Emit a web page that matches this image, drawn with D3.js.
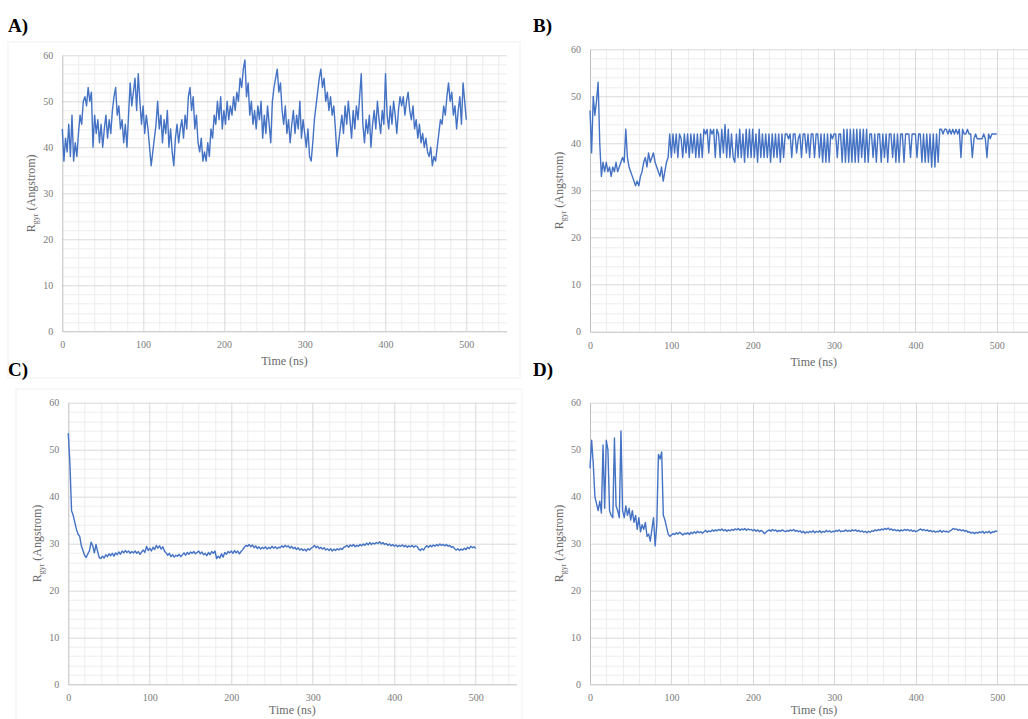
<!DOCTYPE html>
<meta charset="utf-8">
<style type="text/css">
  body{ margin:0; background:#fff; }
  svg{ display:block; }
  text{ font-family:"Liberation Serif","DejaVu Serif",serif; }
  .tick text{ fill:#7a7a7a; font-size:10px; }
  .axis-title{ fill:#6a6a6a; font-size:12px; }
  .tag{ fill:#000; font-size:19px; font-weight:bold; }
</style>
<body>
<script src="https://d3js.org/d3.v7.min.js"></script>
<script>

// sampling interval of the trajectories (ns)
var step = 2;

var timeTicks = [0, 100, 200, 300, 400, 500];
var rgyrTicks = [0, 10, 20, 30, 40, 50, 60];

// Rgyr (Angstrom), one value every 2 ns from 0 to 500 ns
var rgyrA = [
  44, 37, 42, 39, 45, 38, 47, 37, 41, 38,
  43, 47, 45, 50, 51, 49, 53, 50, 52, 40,
  47, 43, 46, 41, 45, 40, 44, 47, 42, 46,
  43, 48, 51, 53, 47, 49, 44, 46, 41, 45,
  40, 47, 54, 49, 52, 55, 48, 56, 50, 45,
  49, 43, 47, 44, 40, 36, 39, 42, 45, 50,
  44, 47, 41, 46, 43, 48, 40, 44, 39, 36,
  42, 45, 41, 44, 46, 42, 47, 44, 51, 53,
  48, 51, 44, 47, 41, 39, 42, 37, 39, 37,
  41, 38, 44, 42, 47, 45, 50, 46, 51, 44,
  48, 45, 50, 46, 49, 47, 51, 48, 52, 50,
  55, 53, 57, 59, 51, 54, 47, 50, 45, 48,
  44, 49, 46, 50, 42, 47, 43, 49, 45, 41,
  50, 53, 55, 57, 52, 54, 48, 45, 49, 43,
  46, 41, 45, 48, 43, 47, 44, 50, 42, 46,
  43, 40, 44, 38, 37, 41, 46, 49, 52, 55,
  57, 53, 55, 50, 52, 48, 51, 47, 49, 44,
  38, 41, 44, 47, 43, 49, 45, 50, 46, 42,
  48, 44, 49, 46, 51, 56, 45, 41, 46, 43,
  47, 40, 45, 48, 44, 50, 46, 43, 48, 45,
  56, 47, 44, 49, 45, 50, 47, 43, 48, 51,
  49, 51, 47, 50, 52, 48, 46, 49, 44, 46,
  42, 45, 41, 43, 40, 42, 39, 38, 40, 36,
  38, 37, 40, 43, 46, 45, 49, 47, 51, 54,
  50, 52, 47, 49, 44, 48, 51, 45, 54, 50,
  46
];

var rgyrB = [
  47, 38, 50, 46, 49, 53, 40, 33, 36, 34,
  36, 34, 35, 33, 35, 34, 36, 34, 35, 36,
  37, 36, 43, 37, 35, 34, 33, 32, 31, 32,
  31, 33, 34, 36, 37, 35, 38, 36, 37, 38,
  36, 35, 34, 33, 35, 32, 34, 36, 37, 42,
  37, 42, 38, 42, 37, 42, 41, 37, 42, 38,
  42, 37, 42, 38, 42, 37, 42, 37, 42, 37,
  43, 42, 43, 38, 43, 42, 43, 37, 43, 42,
  37, 43, 38, 44, 37, 43, 37, 42, 37, 36,
  42, 37, 43, 37, 42, 36, 43, 37, 43, 37,
  43, 37, 42, 36, 43, 37, 42, 37, 42, 37,
  42, 36, 42, 37, 42, 37, 42, 36, 42, 37,
  42, 42, 41, 42, 37, 42, 42, 38, 41, 42,
  37, 42, 42, 38, 42, 37, 42, 42, 37, 42,
  42, 37, 42, 36, 42, 36, 42, 36, 42, 41,
  42, 42, 37, 42, 42, 36, 43, 36, 43, 36,
  43, 36, 43, 36, 43, 36, 43, 37, 43, 36,
  43, 36, 42, 42, 37, 42, 36, 42, 42, 36,
  42, 37, 42, 36, 42, 42, 37, 42, 36, 42,
  36, 42, 42, 36, 42, 42, 42, 37, 42, 42,
  42, 37, 42, 42, 36, 42, 36, 42, 36, 42,
  35, 42, 35, 42, 36, 43, 43, 42, 43, 43,
  42, 43, 42, 43, 42, 43, 42, 43, 37, 43,
  42, 42, 43, 42, 42, 37, 41, 42, 41, 41,
  41, 41, 42, 41, 37, 42, 41, 42, 42, 42,
  42
];

var rgyrC = [
  53.5, 47, 37, 36, 34.5, 33, 32, 31.5, 29.5, 28.5,
  27.5, 27, 27.8, 28.5, 30.3, 29.5, 28, 29.8, 28.3, 27,
  26.8, 27.3, 26.9, 27.6, 27.2, 27.8, 27.4, 27.9, 27.3, 28,
  27.6, 28.2, 27.7, 28.4, 28, 28.5, 28.1, 28.4, 27.9, 28.3,
  28, 28.4, 27.9, 28.3, 27.7, 28.2, 28.6, 28.1, 29.4, 28.5,
  29, 28.4, 29.2, 28.7, 29.6, 29, 29.5, 28.8, 29.3, 28.4,
  28, 27.5, 27.9, 27.2, 27.6, 27.1, 27.5, 27.3, 27.7, 27.2,
  27.6, 28, 27.5, 28.1, 27.7, 28.2, 27.9, 28.3, 27.8, 28.1,
  28.4, 27.8, 28.2, 27.6, 27.9, 27.4, 28.1, 27.6, 28.3, 27.9,
  28.4, 26.8, 27.3, 26.9, 27.8, 27.1, 28.1, 27.7, 28.3, 28,
  28.4, 27.9, 28.5, 28, 28.4, 27.8, 28.3, 28.7, 29.2, 29.6,
  29.4, 29.8, 29.3, 29.7, 29.1, 29.5, 28.9, 29.3, 28.8, 29.2,
  28.9, 29.3, 28.8, 29.2, 28.9, 29.4, 29, 29.3, 28.9, 29.2,
  29.1, 29.5, 29.2, 29.6, 29.3, 29.5, 29, 29.4, 28.9, 29.2,
  28.7, 29.1, 28.6, 28.9, 28.5, 28.8, 28.4, 28.9, 28.6, 29,
  29.2, 29.6, 29.1, 29.4, 28.9, 29.2, 28.8, 29.1, 28.6, 28.9,
  28.5, 28.9, 28.4, 28.8, 28.5, 28.9, 28.6, 29, 28.7, 29.2,
  29.3, 29.6, 29.2, 29.7, 29.4, 29.8, 29.3, 29.6, 29.4, 29.8,
  29.5, 29.9, 29.6, 30.1, 29.7, 30.2, 29.8, 30.1, 29.9, 30.2,
  30, 30.4, 29.9, 30.2, 29.8, 30, 29.6, 29.9, 29.5, 29.8,
  29.4, 29.7, 29.3, 29.6, 29.4, 29.7, 29.3, 29.6, 29.2, 29.5,
  29.3, 29.6, 29.2, 29.5, 29.4, 28.8, 28.5, 28.9, 28.6, 29.2,
  29.5, 29.2, 29.6, 29.3, 29.7, 29.4, 29.8, 29.5, 29.9, 29.6,
  29.8, 29.5, 29.8, 29.4, 29.6, 29.2, 29.3, 28.9, 28.6, 28.9,
  28.5, 28.8, 28.6, 29, 28.7, 29.2, 28.9, 29.4, 29.1, 29.3,
  28.9
];

var rgyrD = [
  46, 52, 47, 40, 38.5, 37, 39, 36.5, 51, 37.5,
  52, 50, 37, 36, 35.5, 52.5, 38, 37, 35.5, 54,
  37, 35.5, 38, 36, 37.5, 35, 37, 34.5, 36, 33,
  35.5, 32.5, 34, 33, 34.5, 31.5, 32, 30.5, 33, 35.5,
  29.5, 34, 49, 48, 49.5, 36, 35, 33.5, 32, 31.5,
  31.8, 32.1, 31.9, 32.3, 32, 32.4, 32.1, 31.8, 32.2, 32,
  32.3, 31.9, 32.4, 32.1, 32.5, 32.2, 32.6, 32.3, 32.5, 32.2,
  32.5, 32.8, 32.4, 32.7, 32.5, 32.9, 32.6, 32.9, 32.7, 33,
  32.8, 33.1, 32.7, 33, 32.6, 32.9, 32.7, 33, 32.8, 33.1,
  32.9, 33.2, 32.8, 33.1, 32.9, 33.2, 32.8, 33.1, 32.9, 33,
  32.7, 33, 32.6, 32.9, 32.5, 32.8, 32.6, 32.1, 32.4, 32.7,
  32.9, 32.6, 33, 32.7, 32.9, 32.5, 32.8, 32.6, 32.9, 32.7,
  32.5, 32.8, 32.6, 32.9, 32.7, 33, 32.6, 32.8, 32.5, 32.7,
  32.3, 32.6, 32.2, 32.5, 32.3, 32.6, 32.4, 32.7, 32.3, 32.6,
  32.4, 32.7, 32.3, 32.6, 32.4, 32.8, 32.5, 32.7, 32.4, 32.6,
  32.5, 32.8, 32.6, 32.9, 32.5, 32.7, 32.6, 32.9, 32.6, 32.8,
  32.6, 32.9, 32.7, 32.9, 32.6, 32.8, 32.5, 32.7, 32.4, 32.6,
  32.3, 32.6, 32.4, 32.7, 32.6, 32.9, 32.7, 33, 32.8, 33.1,
  32.9, 33.2, 33, 33.3, 32.9, 33.1, 32.8, 33, 32.7, 32.9,
  32.6, 32.9, 32.7, 33, 32.8, 33, 32.7, 32.9, 32.6, 32.8,
  32.5, 32.7, 32.9, 33.1, 32.8, 33, 32.7, 32.9, 32.6, 32.8,
  32.5, 32.7, 32.4, 32.6, 32.5, 32.8, 32.4, 32.7, 32.5, 32.6,
  32.4, 32.7, 32.9, 33.2, 33, 33.1, 32.8, 33, 32.7, 32.9,
  32.6, 32.8, 32.4, 32.5, 32.2, 32.4, 32.1, 32.4, 32.2, 32.5,
  32.3, 32.6, 32.2, 32.5, 32.3, 32.6, 32.2, 32.5, 32.4, 32.7,
  32.5
];

var width = 1028, height = 719;

var svg = d3.select("body").append("svg")
  .attr("width", width)
  .attr("height", height);

// plot boxes of the four panels (pixels), x axis runs to 550 ns
var panels = [
  {tag: "A)", values: rgyrA, left: 62.3, top: 55.3, w: 444.4, h: 276, tagX: 8,   tagY: 32,  titleDy: 34, frame: [8, 42, 512, 336]},
  {tag: "B)", values: rgyrB, left: 590,  top: 49.3, w: 447.4, h: 282.4, tagX: 533, tagY: 32, titleDy: 34, frame: null},
  {tag: "C)", values: rgyrC, left: 68.3, top: 402.7, w: 448.2, h: 281.6, tagX: 8, tagY: 376, titleDy: 30, frame: [16, 389, 506, 340]},
  {tag: "D)", values: rgyrD, left: 590,  top: 402.7, w: 448, h: 281.6, tagX: 533, tagY: 376, titleDy: 30, frame: null}
];

panels.forEach(drawPanel);

function drawPanel(p){

  if (p.frame){
    svg.append("rect")
      .attr("x", p.frame[0]).attr("y", p.frame[1])
      .attr("width", p.frame[2]).attr("height", p.frame[3])
      .attr("fill", "none")
      .attr("stroke", "#f1f1f1");
  }

  svg.append("text")
    .attr("class", "tag")
    .attr("x", p.tagX)
    .attr("y", p.tagY)
    .text(p.tag);

  var x = d3.scaleLinear().domain([0, 550]).range([0, p.w]);
  var y = d3.scaleLinear().domain([0, 60]).range([p.h, 0]);

  var g = svg.append("g")
    .attr("transform", "translate(" + p.left + "," + p.top + ")");

  //minor grid
  g.append("g").selectAll("line")
    .data(d3.range(20, 550, 20).filter(function(d){ return d % 100 != 0; }))
    .enter().append("line")
      .attr("x1", function(d){ return Math.round(x(d)) + 0.5; })
      .attr("x2", function(d){ return Math.round(x(d)) + 0.5; })
      .attr("y1", 0).attr("y2", p.h)
      .attr("stroke", "#ededed");

  g.append("g").selectAll("line")
    .data(d3.range(2, 60, 2).filter(function(d){ return d % 10 != 0; }))
    .enter().append("line")
      .attr("y1", function(d){ return Math.round(y(d)) + 0.5; })
      .attr("y2", function(d){ return Math.round(y(d)) + 0.5; })
      .attr("x1", 0).attr("x2", p.w)
      .attr("stroke", "#ededed");

  //major grid
  g.append("g").selectAll("line")
    .data(timeTicks.slice(1))
    .enter().append("line")
      .attr("x1", function(d){ return Math.round(x(d)) + 0.5; })
      .attr("x2", function(d){ return Math.round(x(d)) + 0.5; })
      .attr("y1", 0).attr("y2", p.h)
      .attr("stroke", "#d9d9d9");

  g.append("g").selectAll("line")
    .data(rgyrTicks.slice(1))
    .enter().append("line")
      .attr("y1", function(d){ return Math.round(y(d)) + 0.5; })
      .attr("y2", function(d){ return Math.round(y(d)) + 0.5; })
      .attr("x1", 0).attr("x2", p.w)
      .attr("stroke", "#d9d9d9");

  //axes
  var xAxis = g.append("g")
    .attr("transform", "translate(0," + p.h + ")")
    .call(d3.axisBottom(x).tickValues(timeTicks).tickSize(0).tickPadding(10))
    .attr("font-family", null);
  xAxis.select(".domain").attr("stroke", "#bfbfbf");

  var yAxis = g.append("g")
    .call(d3.axisLeft(y).tickValues(rgyrTicks).tickSize(0).tickPadding(9))
    .attr("font-family", null);
  yAxis.select(".domain").attr("stroke", "#bfbfbf");

  //trajectory
  var line = d3.line()
    .x(function(d, i){ return x(i * step); })
    .y(function(d){ return y(d); });

  g.append("path")
    .datum(p.values)
    .attr("d", line)
    .attr("fill", "none")
    .attr("stroke", "#4472c4")
    .attr("stroke-width", 1.4)
    .attr("stroke-linejoin", "round");

  //axis titles
  g.append("text")
    .attr("class", "axis-title")
    .attr("text-anchor", "middle")
    .attr("x", x(0) + p.w / 2)
    .attr("y", p.h + p.titleDy)
    .text("Time (ns)");

  var yt = g.append("text")
    .attr("class", "axis-title")
    .attr("text-anchor", "middle")
    .attr("transform", "translate(-27," + (p.h / 2) + ") rotate(-90)");
  yt.append("tspan").text("R");
  yt.append("tspan").attr("font-size", "8px").attr("dy", 3).text("gyr");
  yt.append("tspan").attr("dy", -3).text(" (Angstrom)");
}

</script>
</body>
